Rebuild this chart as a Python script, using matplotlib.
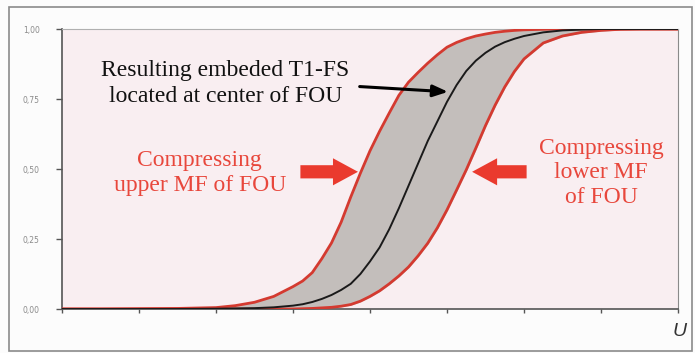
import matplotlib
matplotlib.use("Agg")
import matplotlib.pyplot as plt
from matplotlib.patches import Rectangle

# ---- data ----
u = [0.0, 0.5, 1.0, 1.5, 2.0, 2.25, 2.5, 2.75, 3.0, 3.125, 3.25, 3.375, 3.5, 3.625, 3.75, 3.875,
     4.0, 4.125, 4.25, 4.375, 4.5, 4.625, 4.75, 4.875, 5.0, 5.125, 5.25, 5.375, 5.5, 5.625, 5.75,
     5.875, 6.0, 6.25, 6.5, 6.75, 7.0, 7.25, 7.5, 8.0]
upper_mf = [0.0, 0.0, 0.001, 0.002, 0.005, 0.012, 0.024, 0.045, 0.08, 0.10, 0.13, 0.18, 0.236, 0.31, 0.40, 0.485,
            0.565, 0.635, 0.70, 0.763, 0.81, 0.845, 0.878, 0.908, 0.935, 0.952, 0.965, 0.975, 0.982, 0.988, 0.992,
            0.995, 0.997, 0.999, 1.0, 1.0, 1.0, 1.0, 1.0, 1.0]
center_mf = [0.0, 0.0, 0.0, 0.0, 0.001, 0.002, 0.003, 0.006, 0.012, 0.017, 0.025, 0.036, 0.05, 0.068, 0.09, 0.125,
             0.17, 0.22, 0.285, 0.36, 0.44, 0.52, 0.60, 0.67, 0.74, 0.80, 0.85, 0.887, 0.915, 0.937, 0.953,
             0.965, 0.975, 0.988, 0.995, 0.998, 1.0, 1.0, 1.0, 1.0]
lower_mf = [0.0, 0.0, 0.0, 0.0, 0.0, 0.0, 0.0, 0.0, 0.0, 0.001, 0.002, 0.004, 0.006, 0.01, 0.016, 0.028,
            0.045, 0.065, 0.09, 0.118, 0.15, 0.19, 0.235, 0.29, 0.354, 0.425, 0.497, 0.575, 0.655, 0.728, 0.793,
            0.848, 0.893, 0.95, 0.975, 0.988, 0.995, 0.999, 1.0, 1.0]
y_ticks = [0.0, 0.25, 0.5, 0.75, 1.0]
y_tick_labels = ["0,00", "0,25", "0,50", "0,75", "1,00"]
x_ticks = [0, 1, 2, 3, 4, 5, 6, 7, 8]

W, H = 695, 353
fig = plt.figure(figsize=(W / 100, H / 100), dpi=100)
fig.patch.set_facecolor("#fcfcfc")
# outer frame
fig.add_artist(Rectangle((9 / W, 2 / H), 683 / W, 344 / H, transform=fig.transFigure,
                         fill=False, edgecolor="#8a8a8a", linewidth=1.2))

ax = fig.add_axes([62 / W, 44 / H, 616 / W, 280 / H])
ax.set_facecolor("#f9eef1")

ax.fill_between(u, upper_mf, lower_mf, color="#c3bebb", zorder=1)
ax.plot(u, upper_mf, color="#d43a30", lw=2.0, zorder=3, solid_joinstyle="round")
ax.plot(u, lower_mf, color="#d43a30", lw=2.0, zorder=3, solid_joinstyle="round")
ax.plot(u, center_mf, color="#1a1a1a", lw=1.4, zorder=4, solid_joinstyle="round")

ax.set_xlim(0, 8)
ax.set_ylim(0, 1)
ax.set_xticks(x_ticks)
ax.set_xticklabels([])
ax.set_yticks(y_ticks)
ax.set_yticklabels(y_tick_labels, fontsize=5.5, color="#8a8a8a")
ax.tick_params(axis="y", length=4, width=1, color="#555555", pad=12)
ax.tick_params(axis="x", length=3, width=1, color="#555555")
for s in ["left", "bottom"]:
    ax.spines[s].set_color("#555555")
    ax.spines[s].set_linewidth(1.2)
ax.spines["right"].set_color("#8a8a8a")
ax.spines["top"].set_color("#b0b0b0")

# annotations
ax.annotate("", xy=(5.05, 0.775), xytext=(3.83, 0.795),
            arrowprops=dict(arrowstyle="-|>,head_length=0.9,head_width=0.35", color="black", lw=2.2),
            zorder=6)
ax.text(2.12, 0.804, "Resulting embeded T1-FS\nlocated at center of FOU", family="Liberation Serif",
        fontsize=17, ha="center", va="center", color="#111111", linespacing=1.3)

red = "#e8473c"
ax.text(1.79, 0.486, "Compressing\nupper MF of FOU", family="Liberation Serif", fontsize=17,
        ha="center", va="center", color=red, linespacing=1.25)
ax.text(7.0, 0.486, "Compressing\nlower MF\nof FOU", family="Liberation Serif", fontsize=17,
        ha="center", va="center", color=red, linespacing=1.2)
arrow_style = "simple,head_length=1.8,head_width=1.95,tail_width=0.95"
ax.annotate("", xy=(3.88, 0.49), xytext=(3.06, 0.49),
            arrowprops=dict(arrowstyle=arrow_style, color="#ea3a2e", lw=0), zorder=6)
ax.annotate("", xy=(5.29, 0.49), xytext=(6.07, 0.49),
            arrowprops=dict(arrowstyle=arrow_style, color="#ea3a2e", lw=0), zorder=6)

fig.text(680 / W, 1 - 332 / H, "U", family="Liberation Sans", style="italic", fontsize=14,
         color="#333333", ha="center", va="center")

fig.savefig("out.png", dpi=100, facecolor=fig.get_facecolor())
